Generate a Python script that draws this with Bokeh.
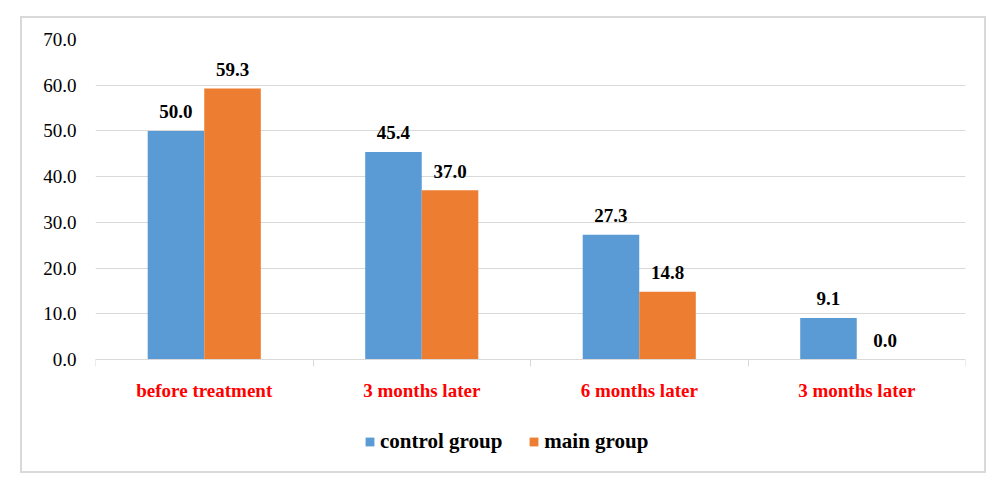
from bokeh.plotting import figure
from bokeh.models import (ColumnDataSource, FixedTicker, Legend, LegendItem,
                          PrintfTickFormatter, InlineStyleSheet)
from bokeh.core.properties import value
from bokeh.embed import file_html
from bokeh.resources import INLINE

categories = ["before treatment", "3 months later", "6 months later", "3 months later"]
control_group = [50.0, 45.4, 27.3, 9.1]
main_group = [59.3, 37.0, 14.8, 0.0]
y_ticks = [0, 10, 20, 30, 40, 50, 60, 70]

BLUE = "#5b9bd5"
ORANGE = "#ed7d31"
GRID = "#d9d9d9"
SERIF = "Liberation Serif"
FS = "19px"

centers = [i + 0.5 for i in range(len(categories))]
bw = 0.26
src_c = ColumnDataSource(dict(x=[c - bw / 2 for c in centers], top=control_group,
                              lab=["%.1f" % v for v in control_group]))
src_m = ColumnDataSource(dict(x=[c + bw / 2 for c in centers], top=main_group,
                              lab=["%.1f" % v for v in main_group]))

# frame extends below zero so the category labels and legend live inside it
px_per_unit = 320 / 70.0
y_bottom = -100 / px_per_unit

p = figure(width=1000, height=485, output_backend="svg", toolbar_location=None,
           x_range=(0, len(categories)), y_range=(y_bottom, 70),
           min_border_left=95, min_border_right=35, min_border_top=39, min_border_bottom=26)
p.outline_line_color = None
p.stylesheets = [InlineStyleSheet(css="""
:host { position: relative; }
:host::after {
  content: ""; position: absolute; left: 20px; top: 16px; width: 962px; height: 453px;
  border: 2px solid #d9d9d9; pointer-events: none; box-sizing: content-box; z-index: 10;
}
""")]

rc = p.vbar(x="x", top="top", width=bw, source=src_c, color=BLUE, line_color=None)
rm = p.vbar(x="x", top="top", width=bw, source=src_m, color=ORANGE, line_color=None)

for s in (src_c, src_m):
    p.text(x="x", y="top", text="lab", source=s, y_offset=-12.5,
           text_align="center", text_baseline="bottom",
           text_font=value(SERIF), text_font_style="bold", text_font_size=FS,
           text_color="black")

# y axis
p.yaxis.ticker = FixedTicker(ticks=y_ticks)
p.yaxis.formatter = PrintfTickFormatter(format="%.1f")
p.yaxis.axis_line_color = None
p.yaxis.major_tick_line_color = None
p.yaxis.major_tick_out = 0
p.yaxis.major_tick_in = 0
p.yaxis.minor_tick_line_color = None
p.yaxis.major_label_text_font = SERIF
p.yaxis.major_label_text_font_size = FS
p.yaxis.major_label_text_color = "black"
p.yaxis.major_label_standoff = 19
p.ygrid.ticker = FixedTicker(ticks=y_ticks)
p.ygrid.grid_line_color = GRID
p.xgrid.grid_line_color = None

# x axis, pinned at zero
p.xaxis.fixed_location = 0
p.xaxis.ticker = FixedTicker(ticks=centers, minor_ticks=list(range(len(categories) + 1)))
p.xaxis.major_label_overrides = {c: lab for c, lab in zip(centers, categories)}
p.xaxis.axis_line_color = GRID
p.xaxis.major_tick_line_color = None
p.xaxis.major_tick_out = 0
p.xaxis.major_tick_in = 0
p.xaxis.minor_tick_line_color = GRID
p.xaxis.minor_tick_out = 7
p.xaxis.minor_tick_in = 0
p.xaxis.major_label_text_font = SERIF
p.xaxis.major_label_text_font_style = "bold"
p.xaxis.major_label_text_font_size = FS
p.xaxis.major_label_text_color = "#ff0000"
p.xaxis.major_label_standoff = 13

legend = Legend(items=[LegendItem(label="control group", renderers=[rc]),
                       LegendItem(label="main group", renderers=[rm])],
                orientation="horizontal", location=(269, 5),
                glyph_width=11, glyph_height=11, label_standoff=5, spacing=26,
                label_text_font=SERIF, label_text_font_style="bold",
                label_text_font_size="21px", label_text_color="black",
                border_line_color=None, background_fill_alpha=0, padding=0, margin=0)
p.add_layout(legend)

open("out.html", "w").write(file_html(p, INLINE))
